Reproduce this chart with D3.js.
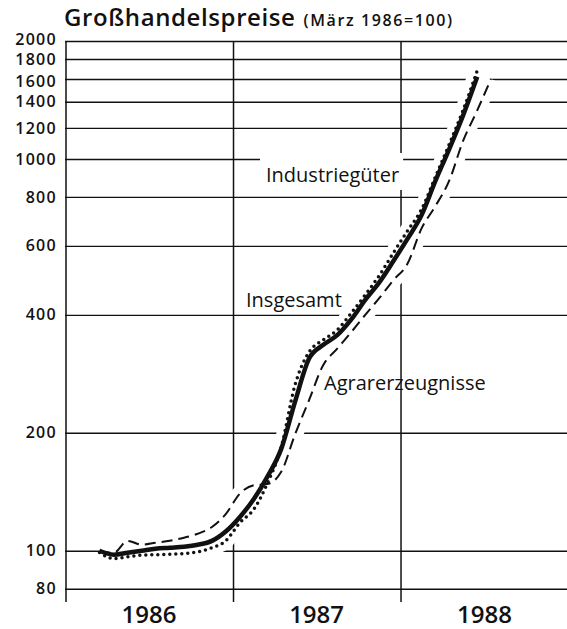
<!DOCTYPE html>
<html>
<head>
<meta charset="utf-8">
<script src="https://cdn.jsdelivr.net/npm/d3@7"></script>
<style>
body { margin: 0; background: #fff; }
text { font-family: "Open Sans", "DejaVu Sans", sans-serif; fill: #111; }
</style>
</head>
<body>
<div id="chart"></div>
<script>
// months from März 1986 to Juli 1988
var months = ["1986-03","1986-04","1986-05","1986-06","1986-07","1986-08","1986-09","1986-10","1986-11","1986-12",
              "1987-01","1987-02","1987-03","1987-04","1987-05","1987-06","1987-07","1987-08","1987-09","1987-10","1987-11","1987-12",
              "1988-01","1988-02","1988-03","1988-04","1988-05","1988-06","1988-07"];

var insgesamt = [100, 97.7, 98.8, 100, 101.2, 101.8, 102.4, 103.6, 106, 112,
                 122, 136, 154, 182, 240, 310, 335, 355, 390, 437, 485, 548,
                 625, 720, 874, 1060, 1290, 1620];

var industrie = [99, 95.5, 96.5, 97.5, 97.7, 98, 98.3, 99.4, 101.8, 106,
                 118, 128, 148, 184, 265, 322, 345, 366, 405, 450, 505, 575,
                 655, 745, 895, 1090, 1330, 1680];

var agrar = [100, 98.8, 106, 103.6, 104.8, 106, 108, 110.5, 115, 124,
             140, 147, 148, 159, 198, 243, 297, 328, 362, 400, 442, 490,
             540, 666, 755, 880, 1110, 1330, 1600];

var yTicks = [80, 100, 200, 400, 600, 800, 1000, 1200, 1400, 1600, 1800, 2000];
var years = [1986, 1987, 1988];

var W = 567, H = 629;
var mLeft = 65, mRight = 567, mTop = 41, mBottom = 602;

var svg = d3.select("#chart").append("svg")
    .attr("width", W)
    .attr("height", H);

var parse = d3.timeParse("%Y-%m");
function mid(s) { var d = parse(s); return new Date(d.getFullYear(), d.getMonth(), 15); }

var x = d3.scaleTime()
    .domain([new Date(1986, 0, 1), new Date(1989, 0, 1)])
    .range([66, 569]);

var y = d3.scaleLog()
    .domain([74, 2000])
    .range([mBottom, mTop]);

// title
var title = svg.append("text")
    .attr("x", 64)
    .attr("y", 26);
title.append("tspan")
    .style("font-size", "24px")
    .style("font-weight", 600)
    .style("letter-spacing", "0.6px")
    .text("Großhandelspreise");
title.append("tspan")
    .attr("dx", 8)
    .style("font-size", "16px")
    .style("font-weight", 600)
    .style("letter-spacing", "1.6px")
    .text("(März 1986=100)");

// horizontal grid + labels
var yAxis = svg.append("g")
    .attr("transform", "translate(" + mLeft + ",0)")
    .call(d3.axisLeft(y)
        .tickValues(yTicks)
        .tickSize(-(mRight - mLeft))
        .tickPadding(8)
        .tickFormat(function(d) { return d; }));

yAxis.select(".domain").remove();
yAxis.selectAll(".tick line")
    .attr("stroke", "#111")
    .attr("stroke-width", 1.4);
yAxis.selectAll(".tick text")
    .attr("fill", "#111")
    .attr("y", function(d) { return d == 2000 ? -2 : d == 1600 ? 2 : 0; })
    .style("font-family", "'Open Sans', sans-serif")
    .style("font-size", "16px")
    .style("letter-spacing", "1.3px")
    .style("font-weight", 600);

// vertical lines: axis and year separators
var seps = [new Date(1986, 0, 1), new Date(1987, 0, 1), new Date(1988, 0, 1)];
svg.append("g").selectAll("line")
    .data(seps)
    .enter().append("line")
    .attr("x1", function(d) { return x(d); })
    .attr("x2", function(d) { return x(d); })
    .attr("y1", mTop)
    .attr("y2", mBottom)
    .attr("stroke", "#111")
    .attr("stroke-width", 1.5);

// year labels
svg.append("g").selectAll("text")
    .data(years)
    .enter().append("text")
    .attr("x", function(d) { return x(new Date(d, 6, 1)); })
    .attr("y", 623)
    .attr("text-anchor", "middle")
    .style("font-size", "24px")
    .style("font-weight", 600)
    .text(function(d) { return d; });

var line = d3.line()
    .curve(d3.curveMonotoneX)
    .x(function(d) { return x(d.date); })
    .y(function(d) { return y(d.value); });

function series(vals) {
    return vals.map(function(v, i) { return {date: mid(months[i]), value: v}; });
}

var all = [series(insgesamt), series(industrie), series(agrar)];

// white halo so the grid breaks around the curves
svg.append("g").selectAll("path")
    .data(all)
    .enter().append("path")
    .attr("d", line)
    .attr("fill", "none")
    .attr("stroke", "#fff")
    .attr("stroke-width", 16)
    .attr("stroke-linejoin", "round");

svg.append("path")
    .datum(series(agrar))
    .attr("d", line)
    .attr("fill", "none")
    .attr("stroke", "#111")
    .attr("stroke-width", 2)
    .attr("stroke-dasharray", "11 6");

svg.append("path")
    .datum(series(industrie))
    .attr("d", line)
    .attr("fill", "none")
    .attr("stroke", "#111")
    .attr("stroke-width", 3.5)
    .attr("stroke-linecap", "round")
    .attr("stroke-dasharray", "0 6");

svg.append("path")
    .datum(series(insgesamt))
    .attr("d", line)
    .attr("fill", "none")
    .attr("stroke", "#111")
    .attr("stroke-width", 4.5)
    .attr("stroke-linejoin", "round");

// labels
function label(txt, lx, ly, box) {
    var g = svg.append("g");
    var t = g.append("text")
        .attr("x", lx)
        .attr("y", ly)
        .style("font-size", "20px")
        .text(txt);
    if (box) {
        var b = t.node().getBBox();
        g.insert("rect", "text")
            .attr("x", b.x - 6)
            .attr("y", b.y - 8)
            .attr("width", b.width + 10)
            .attr("height", b.height + 10)
            .attr("fill", "#fff");
    }
}

label("Industriegüter", 266, 182, true);
label("Insgesamt", 246, 307, false);
label("Agrarerzeugnisse", 324, 390, false);
</script>
</body>
</html>
